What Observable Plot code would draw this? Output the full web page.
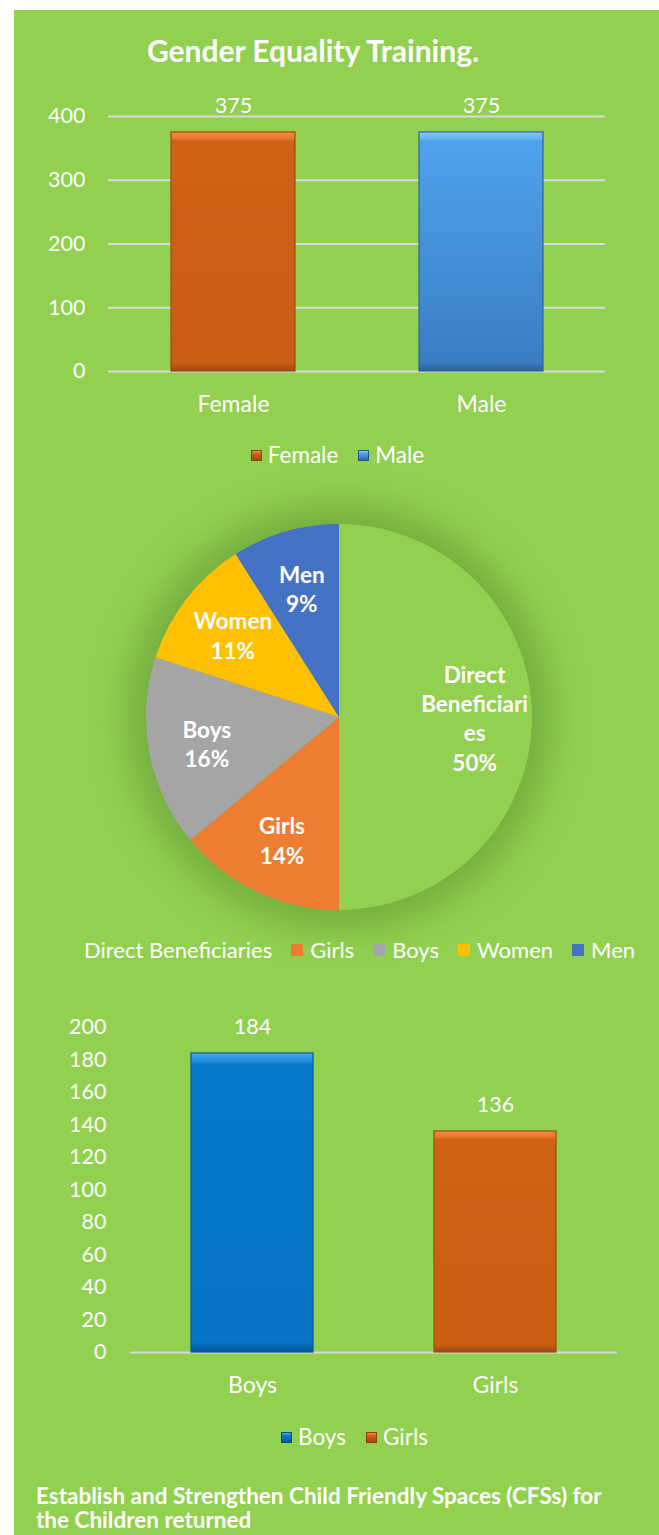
<!DOCTYPE html>
<html>
<head>
<meta charset="utf-8">
<script src="https://cdn.jsdelivr.net/npm/d3@7"></script>
<script src="https://cdn.jsdelivr.net/npm/@observablehq/plot@0.6"></script>
<style>
  html, body { margin: 0; padding: 0; background: #ffffff; }
  body { width: 659px; height: 1535px; position: relative; overflow: hidden; font-family: Lato, "Open Sans", sans-serif; }
  #panel { position: absolute; left: 14px; top: 10px; width: 645px; height: 1525px; background: #92D050; overflow: hidden; color: #ffffff; }
  .abs { position: absolute; }
  .title { left: 0; width: 598px; text-align: center; font-weight: bold; font-size: 30px; line-height: 34px; top: 23px; }
  .legend { display: flex; align-items: center; font-size: 22.5px; line-height: 26px; white-space: nowrap; box-sizing: border-box; }
  .legend .item { display: flex; align-items: center; }
  .legend .sw { width: 11px; height: 11px; margin-right: 6px; box-sizing: border-box; }
  .caption { left: 22px; font-weight: bold; font-size: 22.5px; line-height: 24px; top: 1474px; width: 630px; white-space: nowrap; }
  svg { overflow: visible; }
</style>
</head>
<body>
<svg width="0" height="0" style="position:absolute">
  <defs>
    <linearGradient id="gOrange" x1="0" y1="0" x2="0" y2="1">
      <stop offset="0" stop-color="#F58D45"/>
      <stop offset="0.03" stop-color="#E4752B"/>
      <stop offset="0.036" stop-color="#D06216"/>
      <stop offset="0.965" stop-color="#CB5D13"/>
      <stop offset="1" stop-color="#9C4610"/>
    </linearGradient>
    <linearGradient id="gLightBlue" x1="0" y1="0" x2="0" y2="1">
      <stop offset="0" stop-color="#86CBFA"/>
      <stop offset="0.03" stop-color="#62B2F2"/>
      <stop offset="0.036" stop-color="#4FA3EC"/>
      <stop offset="0.965" stop-color="#3A7DC3"/>
      <stop offset="1" stop-color="#2A5E96"/>
    </linearGradient>
    <linearGradient id="gBlue" x1="0" y1="0" x2="0" y2="1">
      <stop offset="0" stop-color="#4AA6EE"/>
      <stop offset="0.03" stop-color="#1F8CDB"/>
      <stop offset="0.036" stop-color="#0679CB"/>
      <stop offset="0.965" stop-color="#0674C4"/>
      <stop offset="1" stop-color="#05569C"/>
    </linearGradient>
    <filter id="pieShadow" x="-50%" y="-50%" width="200%" height="200%">
      <feGaussianBlur stdDeviation="18"/>
    </filter>
  </defs>
</svg>
<div id="panel">
  <div class="abs title">Gender Equality Training.</div>
  <div id="chart1" class="abs" style="left:0;top:80px"></div>
  <div id="legend1" class="abs legend" style="left:0;width:645px;top:432px;justify-content:center;padding-left:2px"></div>
  <div id="chart2" class="abs" style="left:0;top:480px"></div>
  <div id="legend2" class="abs legend" style="left:51px;top:927px;font-size:22px"></div>
  <div id="chart3" class="abs" style="left:0;top:995px"></div>
  <div id="legend3" class="abs legend" style="left:0;width:645px;top:1414px;justify-content:center;padding-left:36px"></div>
  <div class="abs caption">Establish and Strengthen Child Friendly Spaces (CFSs) for<br>the Children returned</div>
</div>
<script>
// ---------- data ----------
const genderCategories = ["Female", "Male"];
const genderValues = [375, 375];
const genderTicks = [0, 100, 200, 300, 400];

const pieCategories = ["Direct Beneficiaries", "Girls", "Boys", "Women", "Men"];
const pieLabels = ["Direct\nBeneficiari\nes", "Girls", "Boys", "Women", "Men"];
const pieValues = [50, 14, 16, 11, 9];
const pieColors = ["#92D050", "#ED7D31", "#A5A5A5", "#FFC000", "#4472C4"];

const cfsCategories = ["Boys", "Girls"];
const cfsValues = [184, 136];
const cfsTicks = [0, 20, 40, 60, 80, 100, 120, 140, 160, 180, 200];

// ---------- helpers ----------
const baseStyle = {fontFamily: "Lato, 'Open Sans', sans-serif", fontSize: "21.5px", color: "#ffffff", background: "transparent", overflow: "visible"};

function legend(el, names, swatches, gap, sw, swGap) {
  const root = d3.select(el);
  names.forEach((n, i) => {
    const it = root.append("div").attr("class", "item").style("margin-right", i < names.length - 1 ? gap + "px" : "0px");
    it.append("div").attr("class", "sw")
      .style("width", sw + "px").style("height", sw + "px").style("margin-right", swGap + "px")
      .style("background", swatches[i].bg).style("border", "1px solid " + swatches[i].border);
    it.append("span").text(n);
  });
}
function bigXLabels(svg) {
  d3.select(svg).selectAll('[aria-label="x-axis tick label"] text, [aria-label="x-axis tick label"]').attr("font-size", "23px");
}

// ---------- chart 1 ----------
const gender = genderCategories.map((c, i) => ({category: c, value: genderValues[i]}));
const genderFill = {Female: "url(#gOrange)", Male: "url(#gLightBlue)"};
const genderStroke = {Female: "#A04A10", Male: "#2F659F"};
const chart1 = Plot.plot({
  width: 645, height: 330,
  marginLeft: 94, marginRight: 54, marginTop: 26, marginBottom: 49,
  style: baseStyle,
  x: {domain: genderCategories, paddingInner: 0.5, paddingOuter: 0.25, tickSize: 0, tickPadding: 24, label: null},
  y: {domain: [0, 400], ticks: genderTicks, tickSize: 0, tickPadding: 23, label: null},
  marks: [
    Plot.ruleY(genderTicks, {stroke: "#D9D9D9", strokeWidth: 2}),
    Plot.barY(gender, {x: "category", y: "value", fill: d => genderFill[d.category], stroke: d => genderStroke[d.category], strokeWidth: 1.2}),
    Plot.text(gender, {x: "category", y: "value", text: d => String(d.value), dy: -26, fill: "#ffffff", fontSize: 21.5})
  ]
});
bigXLabels(chart1);
document.getElementById("chart1").append(chart1);
legend(document.getElementById("legend1"), genderCategories, [
  {bg: "linear-gradient(#F58D45 0%, #D06216 30%, #A04A10 100%)", border: "#8E400C"},
  {bg: "linear-gradient(#86CBFA 0%, #4FA3EC 30%, #2F659F 100%)", border: "#28568A"}
], 20, 11, 6);

// ---------- chart 2 (pie) ----------
const pieData = pieCategories.map((c, i) => ({name: c, label: pieLabels[i], value: pieValues[i]}));
const arcs = d3.pie().sort(null).value(d => d.value)(pieData);
const labelArc = d3.arc().innerRadius(0.7).outerRadius(0.7);
const pieColor = d3.scaleOrdinal(pieCategories, pieColors);

function pieMark(index, scales) {
  const cx = scales.x(0), cy = scales.y(0);
  const r = Math.abs(scales.x(1) - scales.x(0));
  const g = d3.create("svg:g");
  g.append("circle").attr("cx", cx).attr("cy", cy).attr("r", r + 18)
    .attr("fill", "#5E9431").attr("opacity", 0.6).attr("filter", "url(#pieShadow)");
  const arc = d3.arc().innerRadius(0).outerRadius(r);
  g.append("g").attr("transform", `translate(${cx},${cy})`)
    .selectAll("path").data(arcs).join("path")
    .attr("d", arc).attr("fill", d => pieColor(d.data.name));
  return g.node();
}

const chart2 = Plot.plot({
  width: 645, height: 445,
  margin: 0,
  style: baseStyle,
  x: {domain: [-1, 1], range: [132, 518], axis: null},
  y: {domain: [-1, 1], range: [420, 34], axis: null},
  marks: [
    pieMark,
    Plot.text(arcs, {
      x: d => labelArc.centroid(d)[0],
      y: d => -labelArc.centroid(d)[1],
      text: d => `${d.data.label}\n${d.data.value}%`,
      fill: "#ffffff", fontWeight: "bold", fontSize: 22.5, lineHeight: 1.3
    })
  ]
});
document.getElementById("chart2").append(chart2);
legend(document.getElementById("legend2"), pieCategories,
  pieColors.map(c => ({bg: c, border: c})), 19, 12, 7);

// ---------- chart 3 ----------
const cfs = cfsCategories.map((c, i) => ({category: c, value: cfsValues[i]}));
const cfsFill = {Boys: "url(#gBlue)", Girls: "url(#gOrange)"};
const cfsStroke = {Boys: "#055A9F", Girls: "#A04A10"};
const chart3 = Plot.plot({
  width: 645, height: 400,
  marginLeft: 116, marginRight: 42, marginTop: 22, marginBottom: 53,
  style: baseStyle,
  x: {domain: cfsCategories, paddingInner: 0.5, paddingOuter: 0.25, tickSize: 0, tickPadding: 24, label: null},
  y: {domain: [0, 200], ticks: cfsTicks, tickSize: 0, tickPadding: 24, label: null},
  marks: [
    Plot.ruleY([0], {stroke: "#D9D9D9", strokeWidth: 2}),
    Plot.barY(cfs, {x: "category", y: "value", fill: d => cfsFill[d.category], stroke: d => cfsStroke[d.category], strokeWidth: 1.2}),
    Plot.text(cfs, {x: "category", y: "value", text: d => String(d.value), dy: -26, fill: "#ffffff", fontSize: 21.5})
  ]
});
bigXLabels(chart3);
document.getElementById("chart3").append(chart3);
legend(document.getElementById("legend3"), cfsCategories, [
  {bg: "linear-gradient(#4AA6EE 0%, #0679CB 30%, #05569C 100%)", border: "#044C8A"},
  {bg: "linear-gradient(#F58D45 0%, #D06216 30%, #A04A10 100%)", border: "#8E400C"}
], 20, 11, 6);
</script>
</body>
</html>
